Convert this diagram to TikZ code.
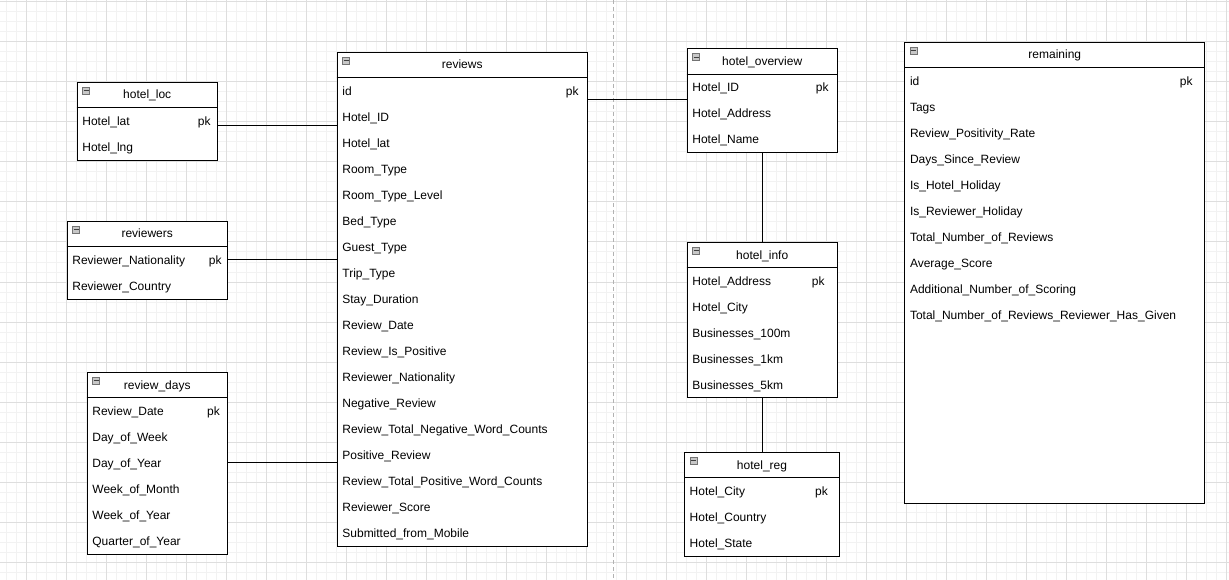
\documentclass[tikz,border=0pt]{standalone}
\usepackage{fontspec}
\setmainfont{Liberation Sans}
\usetikzlibrary{calc}

\tikzset{
  minorgrid/.style={draw=black!5, line width=1pt},
  majorgrid/.style={draw=black!13, line width=1pt},
  pagebreak/.style={draw=black!30, line width=1pt, dash pattern=on 4pt off 3pt},
  tblbox/.style={rectangle, draw=black, line width=1pt, fill=white, inner sep=0pt, anchor=north west},
  tblrule/.style={draw=black, line width=1pt},
  tbltitle/.style={inner sep=0pt, anchor=base},
  fieldtext/.style={inner sep=0pt, anchor=base west},
  pktext/.style={inner sep=0pt, anchor=base east},
  minusbox/.style={rectangle, draw=black!55, fill=black!22, line width=0.8pt, minimum size=7pt, inner sep=0pt},
  minusbar/.style={draw=black!75, line width=1pt},
  link/.style={draw=black, line width=1pt},
}

% #1 node name, #2 left, #3 top, #4 width, #5 height, #6 title, #7 pk inset, #8 fields
\newcommand{\ertable}[8]{%
  \node[tblbox, minimum width=#4, minimum height=#5] (#1) at (#2,#3) {};
  \draw[tblrule] ($(#1.north west)+(0,26)$) -- ($(#1.north east)+(0,26)$);
  \node[minusbox] (#1-minus) at ($(#1.north west)+(9.5,9)$) {};
  \draw[minusbar] ($(#1-minus.center)+(-2.5,0)$) -- ($(#1-minus.center)+(2.5,0)$);
  \node[tbltitle] (#1-title) at ($(#1.north)+(0,17.3)$) {#6};
  \foreach \fld [count=\i] in {#8} {
    \node[fieldtext] (#1-f\i) at ($(#1.north west)+(5.5,17.5+26*\i)$) {\fld};
  }
  \node[pktext] (#1-pk) at ($(#1.north east)+(-#7,43.5)$) {pk};
}

\begin{document}
\begin{tikzpicture}[x=1pt, y=-1pt, font=\fontsize{12}{14}\selectfont]
  \useasboundingbox (0,0) rectangle (1229,580);
  \fill[white] (0,0) rectangle (1229,580);

  % background grid
  \foreach \gx in {6,16,...,1226} \draw[minorgrid] (\gx,0) -- (\gx,580);
  \foreach \gy in {2,12,...,572} \draw[minorgrid] (0,\gy) -- (1229,\gy);
  \foreach \gx in {26,66,...,1226} \draw[majorgrid] (\gx,0) -- (\gx,580);
  \foreach \gy in {2,42,...,562} \draw[majorgrid] (0,\gy) -- (1229,\gy);
  \draw[pagebreak] (613,0) -- (613,580);

  % tables
  \ertable{hotelloc}{76.7}{81.7}{140}{78}{hotel\_loc}{7}
    {Hotel\_lat,Hotel\_lng}
  \ertable{reviews}{336.7}{51.7}{250}{494}{reviews}{9}
    {id,Hotel\_ID,Hotel\_lat,Room\_Type,Room\_Type\_Level,Bed\_Type,Guest\_Type,
     Trip\_Type,Stay\_Duration,Review\_Date,Review\_Is\_Positive,Reviewer\_Nationality,
     Negative\_Review,Review\_Total\_Negative\_Word\_Counts,Positive\_Review,
     Review\_Total\_Positive\_Word\_Counts,Reviewer\_Score,Submitted\_from\_Mobile}
  \ertable{reviewers}{66.7}{220.7}{160}{78}{reviewers}{6}
    {Reviewer\_Nationality,Reviewer\_Country}
  \ertable{reviewdays}{86.7}{371.7}{140}{182}{review\_days}{7.7}
    {Review\_Date,Day\_of\_Week,Day\_of\_Year,Week\_of\_Month,Week\_of\_Year,Quarter\_of\_Year}
  \ertable{overview}{686.7}{48.3}{150}{104}{hotel\_overview}{9}
    {Hotel\_ID,Hotel\_Address,Hotel\_Name}
  \ertable{info}{686.7}{241.7}{150}{155}{hotel\_info}{13}
    {Hotel\_Address,Hotel\_City,Businesses\_100m,Businesses\_1km,Businesses\_5km}
  \ertable{reg}{684}{451.7}{155}{104}{hotel\_reg}{12}
    {Hotel\_City,Hotel\_Country,Hotel\_State}
  \ertable{remaining}{904.3}{41.7}{300}{461.6}{remaining}{12.5}
    {id,Tags,Review\_Positivity\_Rate,Days\_Since\_Review,Is\_Hotel\_Holiday,
     Is\_Reviewer\_Holiday,Total\_Number\_of\_Reviews,Average\_Score,
     Additional\_Number\_of\_Scoring,Total\_Number\_of\_Reviews\_Reviewer\_Has\_Given}

  % relationship lines
  \coordinate (locrow) at (0,125.3);
  \coordinate (natrow) at (0,259.3);
  \coordinate (dayrow) at (0,462.7);
  \coordinate (hidrow) at (0,99.3);
  \draw[link] (hotelloc.east |- locrow) -- (reviews.west |- locrow);
  \draw[link] (reviewers.east |- natrow) -- (reviews.west |- natrow);
  \draw[link] (reviewdays.east |- dayrow) -- (reviews.west |- dayrow);
  \draw[link] (reviews.east |- hidrow) -- (overview.west |- hidrow);
  \draw[link] (overview.south) -- (info.north);
  \draw[link] (info.south) -- (info.south |- reg.north);
\end{tikzpicture}
\end{document}
